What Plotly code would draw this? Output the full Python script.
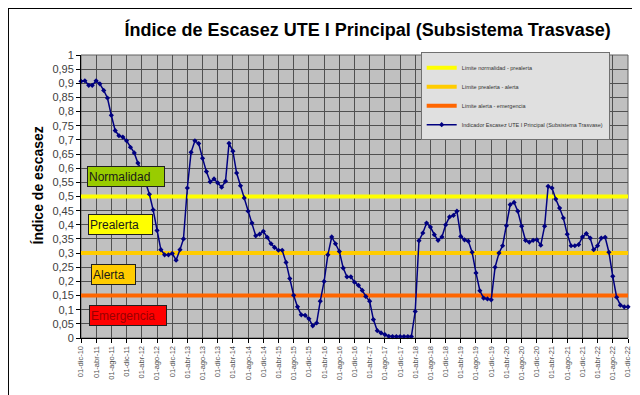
import plotly.graph_objects as go
import pandas as pd

# ---------------- data ----------------
start_date = "2010-12-01"
n_months = 145
dates = pd.date_range(start_date, periods=n_months, freq="MS")

indicador = [
    0.907, 0.909, 0.893, 0.893, 0.909, 0.898, 0.875, 0.848, 0.787, 0.733,
    0.715, 0.710, 0.697, 0.674, 0.654, 0.618, 0.590, 0.550, 0.508, 0.453,
    0.380, 0.312, 0.294, 0.294, 0.299, 0.275, 0.312, 0.350, 0.530, 0.656,
    0.697, 0.687, 0.635, 0.588, 0.552, 0.562, 0.548, 0.533, 0.554, 0.688,
    0.660, 0.583, 0.538, 0.495, 0.448, 0.406, 0.361, 0.367, 0.377, 0.356,
    0.333, 0.320, 0.310, 0.310, 0.267, 0.210, 0.151, 0.110, 0.082, 0.080,
    0.068, 0.043, 0.053, 0.130, 0.200, 0.294, 0.357, 0.333, 0.306, 0.247,
    0.216, 0.216, 0.197, 0.186, 0.168, 0.147, 0.130, 0.065, 0.026, 0.018,
    0.012, 0.006, 0.005, 0.005, 0.005, 0.005, 0.005, 0.005, 0.094, 0.344,
    0.371, 0.406, 0.392, 0.365, 0.345, 0.357, 0.400, 0.428, 0.433, 0.448,
    0.359, 0.347, 0.342, 0.303, 0.230, 0.167, 0.141, 0.138, 0.135, 0.250,
    0.300, 0.326, 0.397, 0.471, 0.479, 0.448, 0.395, 0.345, 0.339, 0.345,
    0.347, 0.328, 0.395, 0.536, 0.530, 0.491, 0.459, 0.424, 0.367, 0.326,
    0.326, 0.330, 0.357, 0.369, 0.353, 0.312, 0.326, 0.353, 0.356, 0.303,
    0.218, 0.144, 0.116, 0.110, 0.110,
]

limite_normalidad_prealerta = 0.5
limite_prealerta_alerta = 0.3
limite_alerta_emergencia = 0.15

serie_names = [
    "Límite normalidad - prealerta",
    "Límite prealerta - alerta",
    "Límite alerta - emergencia",
    "Indicador Escasez UTE I Principal (Subsistema Trasvase)",
]
zone_labels = ["Normalidad", "Prealerta", "Alerta", "Emergencia"]

title_text = "Índice de Escasez UTE I Principal (Subsistema Trasvase)"
y_title_text = "Índice de escasez"

meses = {1: "ene", 2: "feb", 3: "mar", 4: "abr", 5: "may", 6: "jun",
         7: "jul", 8: "ago", 9: "sep", 10: "oct", 11: "nov", 12: "dic"}
tick_step_months = 4
x_tickvals = list(dates[::tick_step_months])
x_ticktext = [f"01-{meses[d.month]}-{d.strftime('%y')}" for d in x_tickvals]

y_tickvals = [round(i * 0.05, 2) for i in range(21)]
y_ticktext = [f"{v:g}".replace(".", ",") for v in y_tickvals]

# ---------------- figure ----------------
FONT = "Liberation Sans, Arial, sans-serif"
fig = go.Figure()

thr_colors = ["#FFFF00", "#FFCC00", "#FF6600"]
thr_values = [limite_normalidad_prealerta, limite_prealerta_alerta, limite_alerta_emergencia]
for name, val, col in zip(serie_names[:3], thr_values, thr_colors):
    fig.add_trace(go.Scatter(
        x=dates, y=[val] * n_months, mode="lines", name=name,
        line=dict(color=col, width=4), legendgroup=name, hoverinfo="skip",
    ))

fig.add_trace(go.Scatter(
    x=dates, y=indicador, mode="lines+markers", name=serie_names[3],
    line=dict(color="#000080", width=1.5),
    marker=dict(symbol="diamond", size=4, color="#000080"),
    legendgroup=serie_names[3], cliponaxis=False,
))

# zone label boxes
zone_styles = [
    dict(x=0.011, y=0.572, bg="#99CC00", fc="#1a1a1a", w=74),
    dict(x=0.013, y=0.400, bg="#FFFF00", fc="#1a1a1a", w=61),
    dict(x=0.019, y=0.224, bg="#FFCC00", fc="#1a1a1a", w=41),
    dict(x=0.015, y=0.080, bg="#FF0000", fc="#990000", w=74),
]
for lab, st in zip(zone_labels, zone_styles):
    fig.add_annotation(
        x=st["x"], y=st["y"], xref="paper", yref="paper",
        xanchor="left", yanchor="middle", text=lab, showarrow=False,
        font=dict(family=FONT, size=12, color=st["fc"]),
        bgcolor=st["bg"], bordercolor="#202020", borderwidth=1, borderpad=1,
        width=st["w"], height=17, align="left",
    )

# y-axis title
fig.add_annotation(
    x=-0.078, y=0.54, xref="paper", yref="paper", text=f"<b>{y_title_text}</b>",
    textangle=-90, showarrow=False, xanchor="center", yanchor="middle",
    font=dict(family=FONT, size=14, color="#000000"),
)

# frame around the chart and plot area border
fig.add_shape(type="rect", xref="paper", yref="paper", x0=0, y0=0, x1=1, y1=1,
              line=dict(color="#606060", width=1), layer="below")
frame = [
    (-0.1335, 1.166, 1.0366, 1.166, "#000000"),
    (-0.1335, 1.166, -0.1335, -0.2297, "#000000"),
    (1.0347, 1.166, 1.0347, -0.2297, "#D8D8D8"),
    (-0.1335, -0.2262, 1.0366, -0.2262, "#D8D8D8"),
]
for x0, y0, x1, y1, c in frame:
    fig.add_shape(type="line", xref="paper", yref="paper", x0=x0, y0=y0, x1=x1, y1=y1,
                  line=dict(color=c, width=2))

fig.update_layout(
    width=640, height=395,
    margin=dict(l=73, r=20, t=47, b=65),
    paper_bgcolor="#FFFFFF", plot_bgcolor="#C0C0C0",
    font=dict(family=FONT, color="#000000"),
    title=dict(text=f"<b>{title_text}</b>", x=0.562, xanchor="center",
               y=0.944, yanchor="middle",
               font=dict(family=FONT, size=18, color="#000000")),
    showlegend=True,
    legend=dict(x=0.621, y=1.01, xanchor="left", yanchor="top",
                bgcolor="#E0E0E0", bordercolor="#707070", borderwidth=1,
                font=dict(family=FONT, size=5.5, color="#333333"),
                itemwidth=30, tracegroupgap=0),
    xaxis=dict(
        type="date", range=[dates[0], dates[-1]],
        tickmode="array", tickvals=x_tickvals, ticktext=x_ticktext,
        tickangle=-90, tickfont=dict(family=FONT, size=7.5, color="#505050"),
        showgrid=True, gridcolor="#505050", gridwidth=1,
        showline=True, linecolor="#000000", linewidth=1,
        ticks="outside", ticklen=4, tickcolor="#000000",
        zeroline=False,
    ),
    yaxis=dict(
        range=[0, 1], tickmode="array", tickvals=y_tickvals, ticktext=y_ticktext,
        tickfont=dict(family=FONT, size=11, color="#404040"),
        showgrid=True, gridcolor="#505050", gridwidth=1,
        showline=True, linecolor="#000000", linewidth=1,
        ticks="outside", ticklen=4, tickcolor="#000000",
        zeroline=False,
    ),
)

fig.write_html("out.html")
